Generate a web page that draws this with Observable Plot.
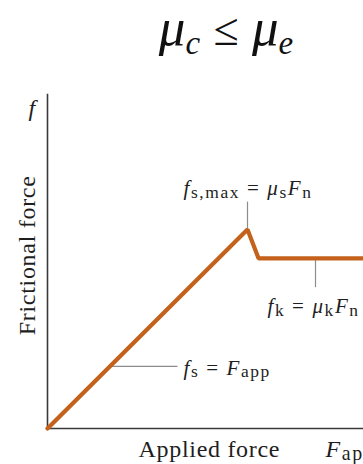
<!DOCTYPE html>
<html>
<head>
<meta charset="utf-8">
<script src="https://cdn.jsdelivr.net/npm/d3@7"></script>
<script src="https://cdn.jsdelivr.net/npm/@observablehq/plot@0.6"></script>
<style>
  body { margin: 0; background: #fff; }
  #wrap { position: relative; width: 363px; height: 464px; overflow: hidden; }
  #title {
    position: absolute; left: 0; top: -3px; width: 452px; height: 70px; text-align: center;
    font-family: "Liberation Serif", serif; font-style: italic; font-size: 53px;
    color: #111; line-height: 60px; white-space: nowrap;
  }
  #title sub { font-size: 33px; vertical-align: -9px; line-height: 1; }
  #title .op { font-style: normal; font-size: 46px; }
  #chart { position: absolute; left: 0; top: 0; }
</style>
</head>
<body>
<div id="wrap">
  <div id="chart"></div>
  <div id="title">μ<sub>c</sub> <span class="op">≤</span> μ<sub>e</sub></div>
</div>
<script>
// Friction vs. applied force: static friction rises with the push until it
// peaks at f_s,max, then drops to the constant kinetic value.
const appliedForce    = [0, 10, 10.55, 16];
const frictionalForce = [0, 10, 8.55, 8.55];

// Leader lines tying each formula to its part of the curve
const leaderX1 = [3.12, 10, 13.4];
const leaderY1 = [3.12, 10, 8.55];
const leaderX2 = [6.5, 10, 13.4];
const leaderY2 = [3.12, 11.4, 7.1];

// Formula labels (markup: *italic*, _{subscript})
const noteText = ["*f*_{s} = *F*_{app}", "*f*_{s,max} = *μ*_{s}*F*_{n}", "*f*_{k} = *μ*_{k}*F*_{n}"];
const noteX = [6.8, 6.8, 11.0];
const noteY = [3.05, 12.05, 6.15];

// Axis titles
const axisText = ["Applied force", "*F*_{app}", "*f*"];
const axisX = [4.55, 13.9, -0.95];
const axisY = [-1.05, -1.05, 16.1];
const yTitle = "Frictional force";
const yTop = 16.8;
const xEnd = 16;

const curve = appliedForce.map((x, i) => ({x, y: frictionalForce[i]}));
const leaders = leaderX1.map((x1, i) => ({x1, y1: leaderY1[i], x2: leaderX2[i], y2: leaderY2[i]}));
const notes = noteText.map((text, i) => ({text, x: noteX[i], y: noteY[i]}));
const axisLabels = axisText.map((text, i) => ({text, x: axisX[i], y: axisY[i]}));

const serif = "Liberation Serif, serif";
const ink = "#1e1e1e";

const chart = Plot.plot({
  width: 363,
  height: 464,
  margin: 0,
  x: {domain: [0, 16], range: [47, 367], axis: null},
  y: {domain: [0, 10], range: [428, 229], axis: null},
  style: {background: "transparent"},
  marks: [
    Plot.ruleX([0], {y1: 0, y2: yTop, stroke: "#3a3a3a", strokeWidth: 1.6}),
    Plot.ruleY([0], {x1: 0, x2: xEnd, stroke: "#3a3a3a", strokeWidth: 1.6}),
    Plot.link(leaders, {x1: "x1", y1: "y1", x2: "x2", y2: "y2", stroke: "#8c8c8c", strokeWidth: 1.2}),
    Plot.line(curve, {x: "x", y: "y", stroke: "#c4621c", strokeWidth: 4.2, strokeLinejoin: "miter"}),
    Plot.text(notes, {x: "x", y: "y", text: "text", textAnchor: "start", fontSize: 21,
      fontFamily: serif, fill: ink}),
    Plot.text(axisLabels, {x: "x", y: "y", text: "text", textAnchor: "start", fontSize: 24,
      fontFamily: serif, fill: ink}),
    Plot.text([yTitle], {x: -1.0, y: 8.7, text: d => d, rotate: -90, fontSize: 24,
      fontFamily: serif, fill: ink})
  ]
});

// Turn the small markup into italic and subscript tspans
function renderMarkup(el) {
  const src = el.textContent;
  if (!/[*_]/.test(src)) {
    el.setAttribute("letter-spacing", "0.7px");
    return;
  }
  const size = parseFloat(el.parentNode.getAttribute("font-size")) || 18;
  el.textContent = "";
  el.setAttribute("letter-spacing", "1.6px");
  const re = /\*([^*]+)\*|_\{([^}]+)\}|([^*_]+)/g;
  const shift = size * 0.13;
  let lowered = false, m;
  while ((m = re.exec(src))) {
    const t = d3.select(el).append("tspan");
    if (m[2] != null) {
      t.text(m[2]).attr("font-size", size * 0.83);
      if (!lowered) { t.attr("dy", shift); lowered = true; }
    } else {
      t.text(m[1] != null ? m[1] : m[3]);
      if (m[1] != null) t.attr("font-style", "italic");
      if (lowered) { t.attr("dy", -shift); lowered = false; }
    }
  }
}
d3.select(chart).selectAll("text").each(function () { renderMarkup(this); });

document.getElementById("chart").appendChild(chart);
</script>
</body>
</html>
